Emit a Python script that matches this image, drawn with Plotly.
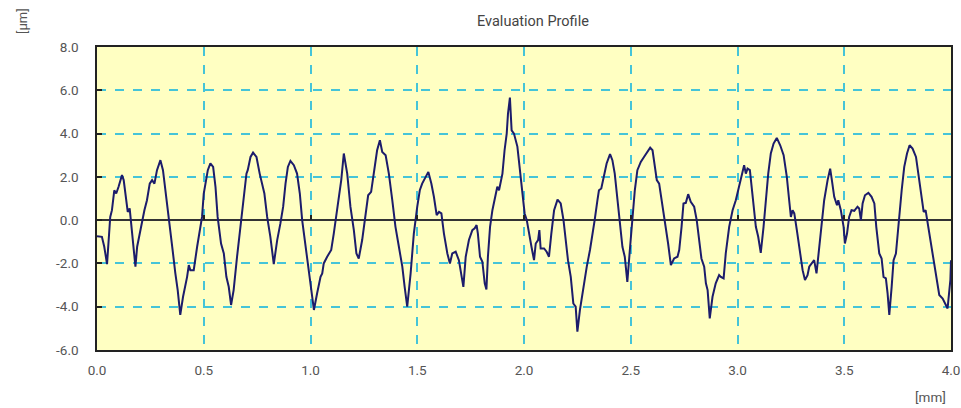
import plotly.graph_objects as go

# Surface profile trace: position along the evaluation length [mm] and height [um]
position_mm = [
    0.000, 0.023, 0.034, 0.047, 0.062, 0.070, 0.081, 0.090, 0.101, 0.117, 0.125, 0.137,
    0.144, 0.153, 0.164, 0.180, 0.188, 0.211, 0.222, 0.234, 0.247, 0.258, 0.269, 0.281,
    0.297, 0.309, 0.325, 0.340, 0.356, 0.367, 0.378, 0.390, 0.403, 0.422, 0.430, 0.437,
    0.453, 0.469, 0.492, 0.500, 0.508, 0.519, 0.531, 0.544, 0.555, 0.565, 0.581, 0.594,
    0.606, 0.617, 0.628, 0.640, 0.656, 0.672, 0.687, 0.700, 0.706, 0.719, 0.731, 0.747,
    0.762, 0.778, 0.784, 0.797, 0.812, 0.828, 0.844, 0.859, 0.872, 0.883, 0.894, 0.906,
    0.922, 0.937, 0.950, 0.961, 0.977, 0.992, 1.016, 1.031, 1.047, 1.055, 1.062, 1.078,
    1.097, 1.109, 1.117, 1.133, 1.144, 1.156, 1.172, 1.187, 1.203, 1.215, 1.226, 1.242,
    1.258, 1.270, 1.284, 1.300, 1.312, 1.325, 1.336, 1.352, 1.367, 1.383, 1.398, 1.414,
    1.430, 1.441, 1.453, 1.469, 1.484, 1.500, 1.512, 1.523, 1.539, 1.552, 1.566, 1.578,
    1.591, 1.602, 1.613, 1.625, 1.641, 1.653, 1.664, 1.680, 1.695, 1.706, 1.716, 1.727,
    1.742, 1.758, 1.769, 1.778, 1.784, 1.794, 1.805, 1.816, 1.824, 1.831, 1.841, 1.852,
    1.863, 1.875, 1.883, 1.899, 1.909, 1.919, 1.925, 1.934, 1.942, 1.953, 1.969, 1.984,
    1.997, 2.003, 2.013, 2.023, 2.035, 2.047, 2.055, 2.066, 2.072, 2.078, 2.094, 2.106,
    2.117, 2.128, 2.141, 2.157, 2.172, 2.185, 2.195, 2.206, 2.219, 2.231, 2.242, 2.250,
    2.262, 2.278, 2.294, 2.309, 2.320, 2.331, 2.344, 2.351, 2.362, 2.375, 2.387, 2.403,
    2.414, 2.425, 2.437, 2.450, 2.461, 2.472, 2.484, 2.497, 2.508, 2.519, 2.531, 2.547,
    2.562, 2.578, 2.591, 2.602, 2.612, 2.622, 2.633, 2.648, 2.664, 2.675, 2.688, 2.703,
    2.719, 2.727, 2.738, 2.747, 2.758, 2.769, 2.781, 2.797, 2.809, 2.820, 2.831, 2.844,
    2.852, 2.860, 2.870, 2.883, 2.898, 2.914, 2.922, 2.935, 2.945, 2.961, 2.977, 2.992,
    3.008, 3.019, 3.031, 3.039, 3.047, 3.058, 3.070, 3.078, 3.086, 3.097, 3.109, 3.122,
    3.133, 3.144, 3.156, 3.169, 3.184, 3.200, 3.216, 3.231, 3.242, 3.250, 3.258, 3.266,
    3.278, 3.294, 3.305, 3.316, 3.328, 3.336, 3.347, 3.359, 3.370, 3.380, 3.391, 3.406,
    3.422, 3.434, 3.442, 3.453, 3.466, 3.472, 3.484, 3.497, 3.503, 3.513, 3.523, 3.534,
    3.547, 3.562, 3.570, 3.578, 3.586, 3.597, 3.613, 3.628, 3.641, 3.650, 3.664, 3.675,
    3.684, 3.695, 3.703, 3.711, 3.722, 3.731, 3.742, 3.758, 3.769, 3.781, 3.794, 3.806,
    3.820, 3.836, 3.852, 3.863, 3.872, 3.881, 3.891, 3.903, 3.914, 3.930, 3.945, 3.961,
    3.972, 3.984, 3.997, 4.000,
]

height_um = [
    -0.74, -0.77, -1.23, -2.03, 0.15, 0.46, 1.38, 1.23, 1.54, 2.08, 1.85, 0.77,
    0.38, 0.54, -0.62, -2.15, -1.23, 0.00, 0.46, 0.92, 1.69, 1.85, 1.69, 2.31,
    2.77, 2.31, 1.08, -0.15, -1.54, -2.46, -3.23, -4.38, -3.54, -2.62, -2.08, -2.31,
    -2.31, -1.23, 0.15, 1.23, 1.69, 2.31, 2.62, 2.46, 1.54, 0.15, -1.08, -1.54,
    -2.62, -3.08, -3.92, -3.23, -1.69, -0.31, 0.92, 2.15, 2.31, 2.92, 3.12, 2.92,
    2.15, 1.54, 1.23, 0.15, -0.77, -2.03, -0.92, -0.15, 0.62, 1.69, 2.46, 2.74,
    2.54, 2.15, 1.23, 0.00, -1.23, -2.15, -4.15, -3.38, -2.62, -2.46, -2.00, -1.69,
    -1.38, -0.62, -0.08, 0.92, 1.85, 3.08, 2.15, 0.62, -0.46, -1.54, -1.77, -0.92,
    0.31, 1.15, 1.31, 2.31, 3.23, 3.69, 3.15, 3.00, 2.15, 0.92, -0.31, -1.23,
    -2.15, -3.08, -4.00, -2.46, -0.62, 0.62, 1.38, 1.69, 2.00, 2.23, 1.69, 1.08,
    0.23, 0.38, 0.31, -0.62, -1.54, -2.00, -1.54, -1.46, -1.85, -2.46, -3.08, -1.69,
    -0.92, -0.46, -0.38, -0.23, -0.62, -1.69, -1.92, -2.92, -3.20, -1.69, -0.31, 0.46,
    0.92, 1.54, 1.38, 2.15, 3.23, 4.00, 4.92, 5.66, 4.15, 4.00, 3.40, 2.15,
    1.08, 0.31, 0.00, -0.62, -1.23, -1.85, -1.08, -0.92, -0.46, -1.31, -1.31, -1.46,
    -1.69, -0.62, 0.46, 0.95, 0.77, 0.00, -0.92, -1.85, -2.62, -3.85, -4.00, -5.15,
    -4.15, -3.08, -2.15, -1.38, -0.77, 0.00, 0.92, 1.38, 1.46, 2.00, 2.62, 3.05,
    2.77, 2.15, 0.92, -0.31, -1.23, -1.69, -2.85, -1.23, 0.15, 1.38, 2.31, 2.69,
    2.92, 3.15, 3.35, 3.23, 2.46, 1.85, 1.69, 0.77, -0.31, -1.08, -2.08, -1.77,
    -1.69, -1.38, -0.31, 0.77, 0.80, 1.20, 0.85, 0.62, 0.00, -0.92, -1.77, -2.15,
    -2.92, -3.23, -4.54, -3.54, -2.92, -2.54, -2.62, -2.69, -1.54, -0.31, 0.46, 0.92,
    1.54, 2.00, 2.54, 2.15, 2.38, 2.31, 1.23, 0.62, -0.31, -0.77, -1.51, -0.31,
    0.92, 2.15, 3.08, 3.54, 3.80, 3.46, 3.00, 2.00, 0.92, 0.15, 0.46, 0.31,
    -0.46, -1.54, -2.31, -2.77, -2.54, -2.15, -2.00, -1.85, -2.46, -1.54, -0.31, 0.92,
    1.85, 2.38, 1.85, 1.08, 0.69, 0.92, 0.46, -0.31, -1.08, -0.62, 0.15, 0.46,
    0.43, 0.62, 0.54, 0.00, 0.77, 1.15, 1.26, 1.08, 0.77, -0.31, -1.54, -1.77,
    -2.62, -2.69, -3.38, -4.38, -3.08, -1.85, -1.54, 0.31, 1.38, 2.46, 3.08, 3.46,
    3.31, 2.92, 1.85, 0.92, 0.38, 0.46, -0.15, -0.92, -1.54, -2.46, -3.46, -3.62,
    -3.85, -4.08, -2.77, -1.85,
]

x_tick_vals = [0.0, 0.5, 1.0, 1.5, 2.0, 2.5, 3.0, 3.5, 4.0]
x_tick_text = ["0.0", "0.5", "1.0", "1.5", "2.0", "2.5", "3.0", "3.5", "4.0"]
y_tick_vals = [8.0, 6.0, 4.0, 2.0, 0.0, -2.0, -4.0, -6.0]
y_tick_text = ["8.0", "6.0", "4.0", "2.0", "0.0", "-2.0", "-4.0", "-6.0"]

GRID = "#45c4d8"
LABEL = "#555555"
FONT = "Roboto, Arial, sans-serif"

fig = go.Figure()

fig.add_trace(go.Scatter(
    x=position_mm,
    y=height_um,
    mode="lines",
    line=dict(color="#1c1c6b", width=2),
    hoverinfo="x+y",
    showlegend=False,
))

# Companion axis sitting on the zero line, carrying only the small tick marks
fig.add_trace(go.Scatter(
    x=[x_tick_vals[0], x_tick_vals[-1]], y=[0, 0], xaxis="x2",
    mode="lines", line=dict(width=0), hoverinfo="skip", showlegend=False,
))

fig.update_layout(
    autosize=False,
    width=961,
    height=408,
    margin=dict(l=97, r=10, t=47, b=58, autoexpand=False),
    paper_bgcolor="white",
    plot_bgcolor="#ffffc2",
    font=dict(family=FONT, size=13, color=LABEL),
    xaxis=dict(
        range=[0, 4],
        automargin=False,
        tickvals=x_tick_vals,
        ticktext=x_tick_text,
        showgrid=True,
        gridcolor=GRID,
        griddash="dash",
        gridwidth=1.5,
        zeroline=False,
        showline=True,
        linecolor="#222222",
        linewidth=1.5,
        mirror=True,
        ticks="",
        ticklabelstandoff=7,
        tickfont=dict(size=13.5, color=LABEL),
    ),
    xaxis2=dict(
        range=[0, 4],
        automargin=False,
        overlaying="x",
        anchor="free",
        position=6 / 14,
        tickvals=x_tick_vals,
        showticklabels=False,
        showgrid=False,
        zeroline=False,
        showline=False,
        ticks="inside",
        ticklen=5,
        tickcolor="#222222",
        tickwidth=1.5,
    ),
    yaxis=dict(
        range=[-6, 8],
        automargin=False,
        tickvals=y_tick_vals,
        ticktext=y_tick_text,
        showgrid=True,
        gridcolor=GRID,
        griddash="dash",
        gridwidth=1.5,
        zeroline=True,
        zerolinecolor="#333333",
        zerolinewidth=1.5,
        showline=True,
        linecolor="#222222",
        linewidth=1.5,
        mirror=True,
        ticks="inside",
        ticklen=5,
        tickcolor="#222222",
        tickwidth=1.5,
        ticklabelstandoff=14,
        tickfont=dict(size=13.5, color=LABEL),
    ),
    annotations=[
        dict(
            text="Evaluation Profile", xref="paper", yref="paper",
            x=0.511, y=1.0, yshift=26, xanchor="center", yanchor="middle",
            showarrow=False, font=dict(size=14.5, color="#444444", family=FONT),
        ),
        dict(
            text="[μm]", xref="paper", yref="paper",
            x=0, xshift=-75, y=1.0, yshift=26, xanchor="center", yanchor="middle",
            textangle=-90, showarrow=False, font=dict(size=13, color=LABEL, family=FONT),
        ),
        dict(
            text="[mm]", xref="paper", yref="paper",
            x=1.0, xshift=-21, y=0, yshift=-47, xanchor="center", yanchor="middle",
            showarrow=False, font=dict(size=13.5, color=LABEL, family=FONT),
        ),
    ],
)

fig.write_html("out.html")
